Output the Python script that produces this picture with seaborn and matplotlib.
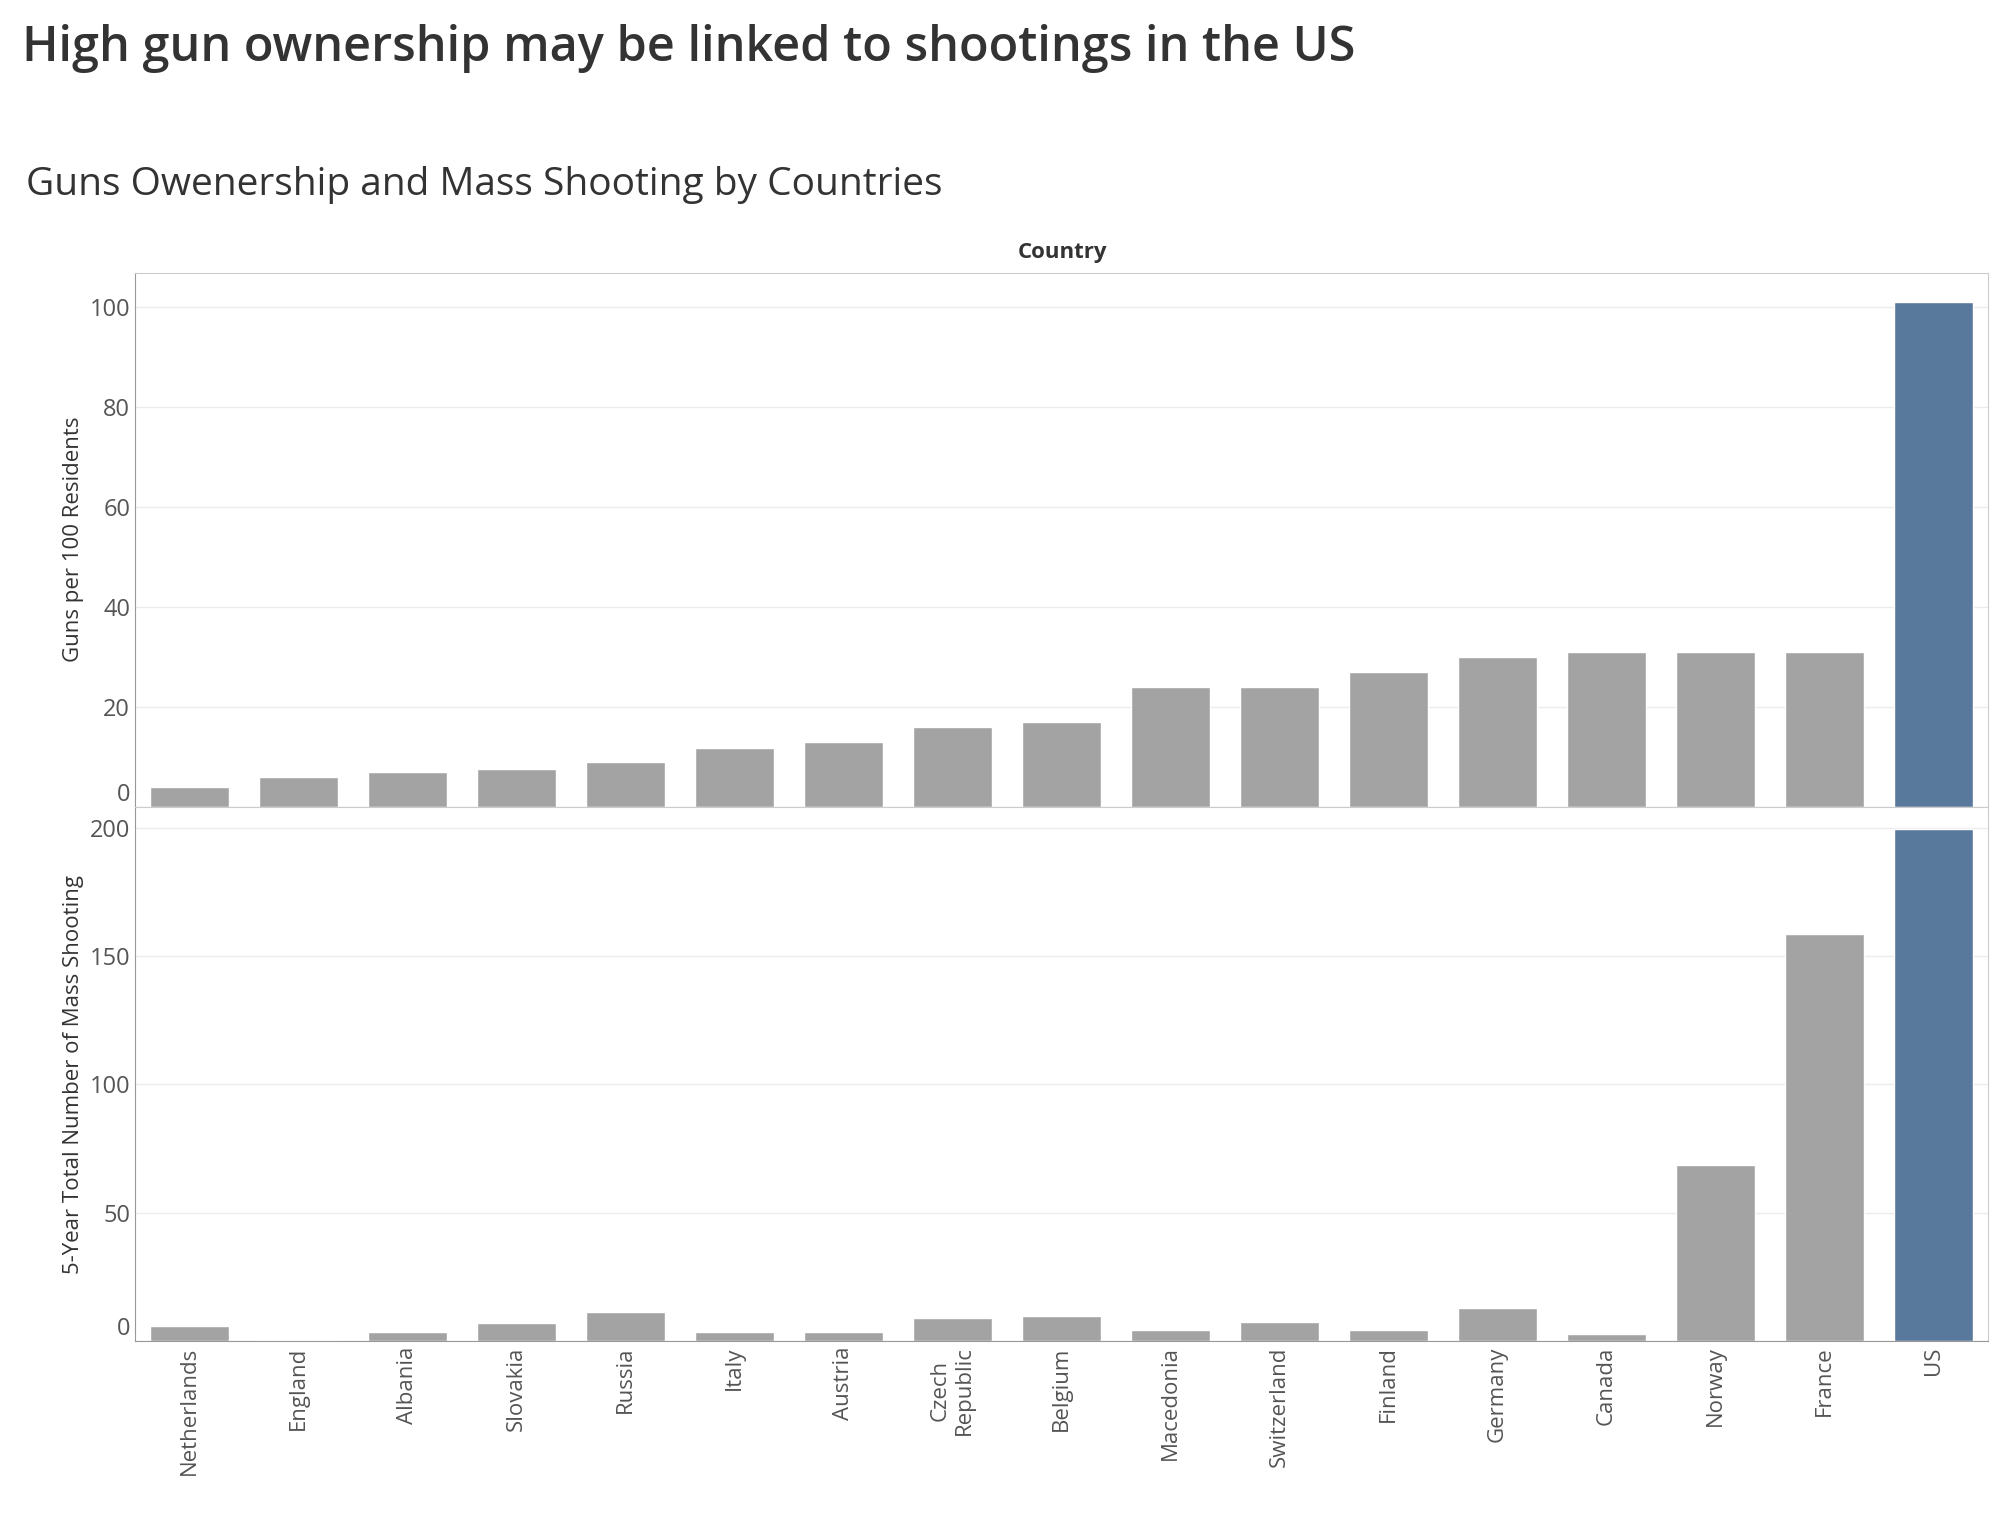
import matplotlib
matplotlib.use('Agg')
import matplotlib.pyplot as plt
import seaborn as sns
import pandas as pd

countries = ['Netherlands', 'England', 'Albania', 'Slovakia', 'Russia', 'Italy', 'Austria',
             'Czech\nRepublic', 'Belgium', 'Macedonia', 'Switzerland', 'Finland', 'Germany',
             'Canada', 'Norway', 'France', 'US']
guns = [3.9, 5.9, 7.0, 7.7, 9.0, 11.9, 13.1, 16.0, 17.0, 24.0, 24.0, 27.0, 30.0, 31.0, 31.0, 31.0, 101.0]
shootings = [6, 0.5, 3.5, 7, 11.6, 3.5, 3.5, 9, 10, 4.5, 7.5, 4.5, 13, 3, 68.5, 158.7, 199.5]

df = pd.DataFrame({'country': countries, 'guns': guns, 'shootings': shootings})
palette = ['#4e79a7' if c == 'US' else '#a3a3a3' for c in countries]

sns.set_style('white')
plt.rcParams['font.family'] = ['Open Sans', 'DejaVu Sans']

fig = plt.figure(figsize=(20.16, 15.14), dpi=100)
ax1 = fig.add_axes([0.067, 0.467, 0.919, 0.353])
ax2 = fig.add_axes([0.067, 0.114, 0.919, 0.353], sharex=ax1)

sns.barplot(data=df, x='country', y='guns', hue='country', palette=palette,
            legend=False, width=0.72, ax=ax1)
sns.barplot(data=df, x='country', y='shootings', hue='country', palette=palette,
            legend=False, width=0.72, ax=ax2)

for ax in (ax1, ax2):
    ax.grid(axis='y', color='#ececec', linewidth=1)
    ax.set_axisbelow(True)
    for s in ax.spines.values():
        s.set_color('#cccccc')
    ax.spines['left'].set_color('#999999')
    ax.tick_params(axis='y', labelsize=17, colors='#555555', length=0)
    ax.set_xlabel('')
    ax.set_xlim(-0.5, len(countries) - 0.5)

ax1.set_ylim(0, 107)
ax1.set_yticks([0, 20, 40, 60, 80, 100])
ax1.set_ylabel('Guns per 100 Residents', fontsize=16, color='#333333')
ax1.tick_params(axis='x', bottom=False, labelbottom=False)

ax2.set_ylim(0, 208)
ax2.set_yticks([0, 50, 100, 150, 200])
ax2.set_ylabel('5-Year Total Number of Mass Shooting', fontsize=16, color='#333333')
ax2.tick_params(axis='x', labelsize=16, colors='#555555', rotation=90, length=0)
ax2.spines['bottom'].set_color('#999999')

# zero labels sit a little above the baseline, as in the reference
for ax in (ax1, ax2):
    ax.get_yticklabels()[0].set_verticalalignment('bottom')

fig.text(0.011, 0.968, 'High gun ownership may be linked to shootings in the US',
         fontsize=35, fontweight='semibold', color='#333333', va='center')
fig.text(0.013, 0.878, 'Guns Owenership and Mass Shooting by Countries',
         fontsize=28, color='#333333', va='center')
fig.text(0.527, 0.833, 'Country', fontsize=16, fontweight='bold', color='#333333',
         ha='center', va='center')

fig.savefig('out.png', dpi=100)
